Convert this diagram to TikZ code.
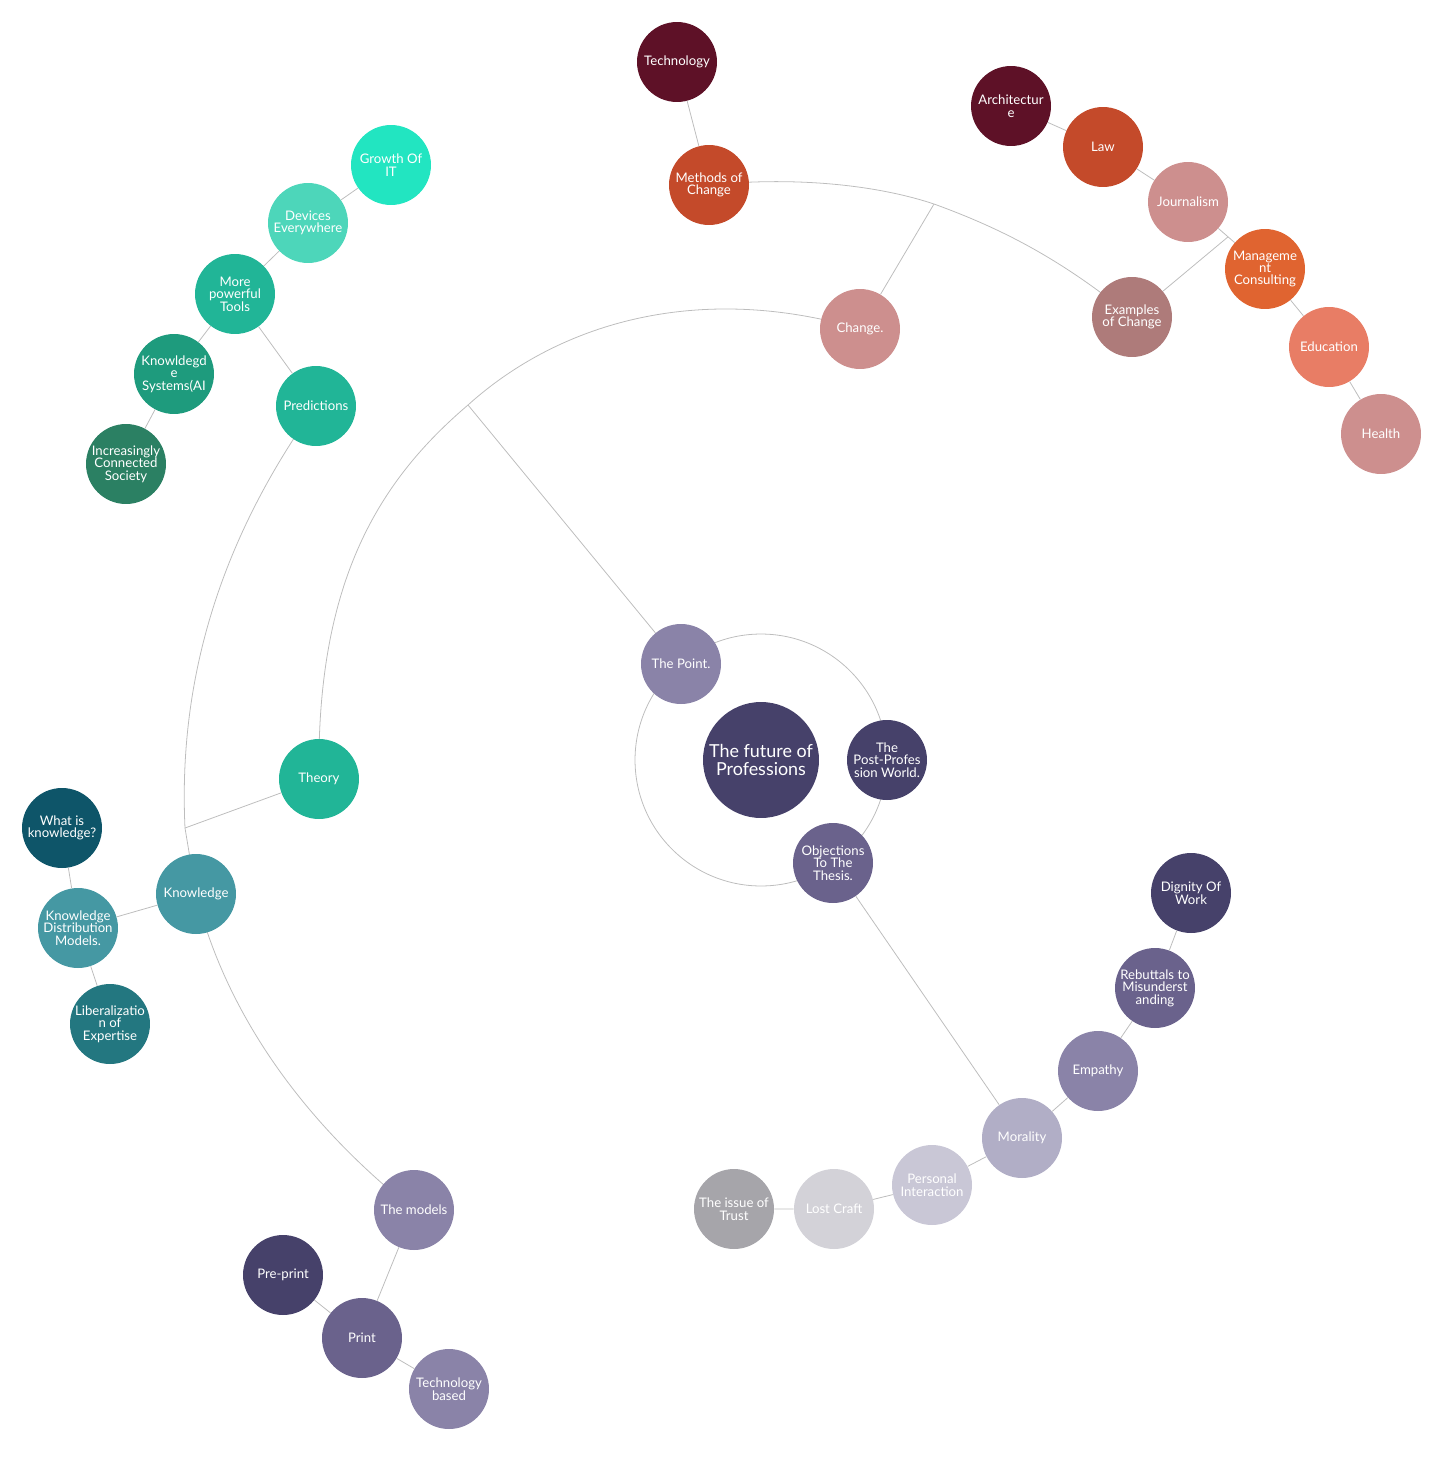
\documentclass[tikz,border=0pt]{standalone}
\usepackage{fontspec}
\setmainfont{Lato}
\usetikzlibrary{backgrounds,calc}
\definecolor{linegray}{HTML}{BDBDBD}
\definecolor{pDark}{HTML}{46416A}
\definecolor{pMid}{HTML}{6A628C}
\definecolor{pLight}{HTML}{8A83A8}
\definecolor{pPale}{HTML}{B1AEC6}
\definecolor{pPaler}{HTML}{C9C7D6}
\definecolor{gCraft}{HTML}{D3D2D8}
\definecolor{gTrust}{HTML}{A6A5AA}
\definecolor{rDark}{HTML}{5E1127}
\definecolor{rOrange}{HTML}{C44A2A}
\definecolor{rPink}{HTML}{CD8F8E}
\definecolor{rMgmt}{HTML}{E06430}
\definecolor{rEdu}{HTML}{E87D65}
\definecolor{rExam}{HTML}{AE7B7A}
\definecolor{tMain}{HTML}{21B597}
\definecolor{tDev}{HTML}{4DD6BA}
\definecolor{tGrow}{HTML}{22E5C1}
\definecolor{tSys}{HTML}{1E9B7D}
\definecolor{tSoc}{HTML}{2B8063}
\definecolor{kMain}{HTML}{4598A3}
\definecolor{kWhat}{HTML}{0E5569}
\definecolor{kLib}{HTML}{237780}
\begin{document}
\begin{tikzpicture}[x=0.02cm,y=-0.02cm,
  bubble/.style={circle,fill=#1,text=white,minimum size=1.6cm,inner sep=0pt,align=center,font=\fontsize{7.5}{7.1}\selectfont},
  link/.style={draw=linegray,line width=0.45pt}]
\useasboundingbox (0,0) rectangle (1456,1457);
% centre
\node[bubble=pDark,minimum size=2.32cm,font=\fontsize{10.2}{9.8}\selectfont] (root) at (761,760) {The future of\\Professions};
\node[bubble=pLight] (point) at (681,664) {The Point.};
\node[bubble=pDark] (post) at (887,760) {The\\Post-Profes\\sion World.};
\node[bubble=pMid] (objections) at (833,863) {Objections\\To The\\Thesis.};
% change
\node[bubble=rPink] (change) at (860,329) {Change.};
\node[bubble=rOrange] (methods) at (709,185) {Methods of\\Change};
\node[bubble=rDark] (technology) at (677,62) {Technology};
\node[bubble=rExam] (examples) at (1132,317) {Examples\\of Change};
\node[bubble=rDark] (architecture) at (1011,106) {Architectur\\e};
\node[bubble=rOrange] (law) at (1103,147) {Law};
\node[bubble=rPink] (journalism) at (1188,202) {Journalism};
\node[bubble=rMgmt] (management) at (1265,269) {Manageme\\nt\\Consulting};
\node[bubble=rEdu] (education) at (1329,347) {Education};
\node[bubble=rPink] (health) at (1381,434) {Health};
% theory
\node[bubble=tMain] (theory) at (319,779) {Theory};
\node[bubble=tMain] (predictions) at (316,406) {Predictions};
\node[bubble=tMain] (tools) at (235,294) {More\\powerful\\Tools};
\node[bubble=tDev] (devices) at (308,223) {Devices\\Everywhere};
\node[bubble=tGrow] (growth) at (391,165) {Growth Of\\IT};
\node[bubble=tSys] (systems) at (174,374) {Knowldegd\\e\\Systems(AI};
\node[bubble=tSoc] (society) at (126,464) {Increasingly\\Connected\\Society};
% knowledge
\node[bubble=kMain] (knowledge) at (196,894) {Knowledge};
\node[bubble=kWhat] (whatis) at (62,828) {What is\\knowledge?};
\node[bubble=kMain] (distribution) at (78,928) {Knowledge\\Distribution\\Models.};
\node[bubble=kLib] (liberal) at (110,1024) {Liberalizatio\\n of\\Expertise};
\node[bubble=pLight] (models) at (414,1210) {The models};
\node[bubble=pDark] (preprint) at (283,1275) {Pre-print};
\node[bubble=pMid] (print) at (362,1338) {Print};
\node[bubble=pLight] (techbased) at (449,1389) {Technology\\based};
% objections
\node[bubble=pPale] (morality) at (1022,1138) {Morality};
\node[bubble=pLight] (empathy) at (1098,1071) {Empathy};
\node[bubble=pMid] (rebuttals) at (1155,988) {Rebuttals to\\Misunderst\\anding};
\node[bubble=pDark] (dignity) at (1191,893) {Dignity Of\\Work};
\node[bubble=pPaler] (personal) at (932,1185) {Personal\\Interaction};
\node[bubble=gCraft] (lostcraft) at (834,1209) {Lost Craft};
\node[bubble=gTrust] (trust) at (734,1209) {The issue of\\Trust};
\coordinate (forkA) at (468,405);
\coordinate (forkB) at (934,204);
\coordinate (forkC) at (185,828);
\coordinate (forkD) at ($(journalism)!0.52!(management)$);
\begin{scope}[on background layer]
\draw[link] (root) circle (2.52cm);
\draw[link] (point) -- (forkA);
\draw[link] (theory.center) .. controls (316,580) and (380,480) .. (forkA)
  .. controls (560,322) and (700,282) .. (change.center);
\draw[link] (change) -- (forkB);
\draw[link] (methods.center) .. controls (800,176) and (880,186) .. (forkB)
  .. controls (1000,228) and (1060,258) .. (examples.center);
\draw[link] (methods) -- (technology);
\draw[link] (examples) -- (forkD);
\draw[link] (architecture) -- (law) -- (journalism) -- (management) -- (education) -- (health);
\draw[link] (theory) -- (forkC);
\draw[link] (predictions.center) .. controls (220,540) and (178,680) .. (forkC)
  -- (knowledge.center) .. controls (225,1010) and (300,1120) .. (models.center);
\draw[link] (predictions) -- (tools);
\draw[link] (growth) -- (devices) -- (tools) -- (systems) -- (society);
\draw[link] (knowledge) -- (distribution);
\draw[link] (whatis) -- (distribution) -- (liberal);
\draw[link] (models) -- (print);
\draw[link] (preprint) -- (print) -- (techbased);
\draw[link] (objections) -- (morality);
\draw[link] (dignity) -- (rebuttals) -- (empathy) -- (morality) -- (personal) -- (lostcraft) -- (trust);
\end{scope}
\end{tikzpicture}
\end{document}
